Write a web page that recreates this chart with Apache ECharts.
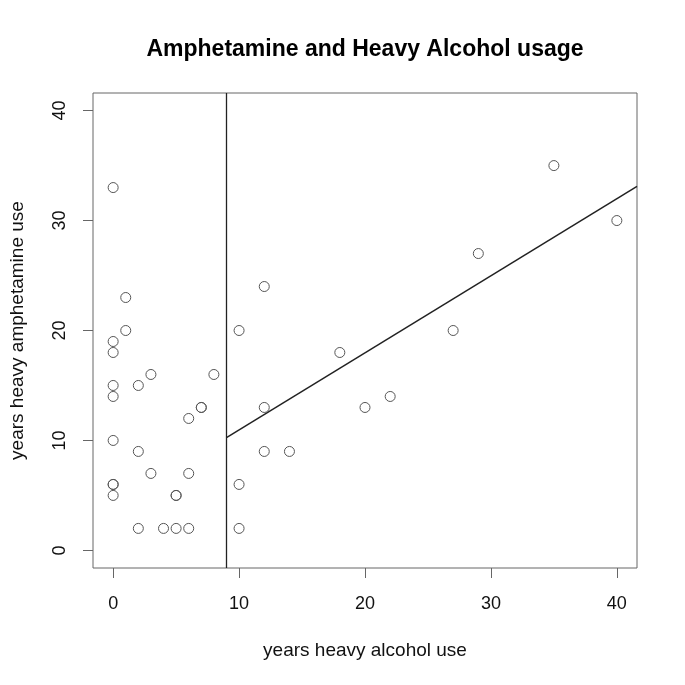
<!DOCTYPE html>
<html>
<head>
<meta charset="utf-8">
<script src="https://cdn.jsdelivr.net/npm/echarts@6/dist/echarts.min.js"></script>
<style>html,body{margin:0;padding:0;background:#fff;}#c{width:685px;height:685px;}</style>
</head>
<body>
<div id="c"></div>
<script>
// Data
const alcoholYears = [0,1,1,0,0,12,10,0,0,2,3,8,7,7,6,0,2,3,6,0,0,0,5,5,2,4,5,6,12,12,10,10,18,20,22,14,35,40,29,27];
const amphetamineYears = [33,23,20,19,18,24,20,15,14,15,16,16,13,13,12,10,9,7,7,6,6,5,5,5,2,2,2,2,13,9,6,2,18,13,14,9,35,30,27,20];
const xTicks = [0,10,20,30,40];
const yTicks = [0,10,20,30,40];
const cutoffX = 9;
const fitX = [9, 41.6];
const fitY = [10.25, 33.1];

const points = alcoholYears.map((x,i)=>[x, amphetamineYears[i]]);
const fitLine = fitX.map((x,i)=>[x, fitY[i]]);

const chart = echarts.init(document.getElementById('c'), null, {renderer:'canvas'});
const font = 'Liberation Sans, Arial, sans-serif';
chart.setOption({
  animation:false,
  title:{
    text:'Amphetamine and Heavy Alcohol usage',
    left:360, top:33, textAlign:'center',
    textStyle:{fontFamily:font, fontWeight:'bold', fontSize:23, color:'#000'}
  },
  grid:{left:93, right:48, top:93, bottom:117, show:true, borderColor:'#666', borderWidth:1, backgroundColor:'transparent', outerBoundsMode:'none', containLabel:false},
  xAxis:{
    type:'value', min:-1.6, max:41.6,
    name:'years heavy alcohol use', nameLocation:'middle', nameGap:73,
    nameTextStyle:{fontFamily:font, fontSize:19, color:'#111'},
    axisLine:{show:false, onZero:false},
    splitLine:{show:false},
    axisTick:{show:true, length:10, inside:false, customValues:xTicks, lineStyle:{color:'#666'}},
    axisLabel:{customValues:xTicks, margin:27, fontFamily:font, fontSize:18, color:'#111'}
  },
  yAxis:{
    type:'value', min:-1.6, max:41.6,
    name:'years heavy amphetamine use', nameLocation:'middle', nameGap:66, nameRotate:90,
    nameTextStyle:{fontFamily:font, fontSize:19, color:'#111'},
    axisLine:{show:false, onZero:false},
    splitLine:{show:false},
    axisTick:{show:true, length:10, customValues:yTicks, lineStyle:{color:'#666'}},
    axisLabel:{customValues:yTicks, rotate:90, margin:24, fontFamily:font, fontSize:18, color:'#111'}
  },
  series:[
    {
      type:'scatter', data:points, symbol:'circle', symbolSize:10,
      itemStyle:{color:'rgba(255,255,255,0)', borderColor:'#555', borderWidth:1, opacity:1},
      markLine:{
        silent:true, symbol:['none','none'], label:{show:false},
        lineStyle:{color:'#222', width:1.3, type:'solid'},
        data:[{xAxis:cutoffX}]
      },
      z:3
    },
    {
      type:'line', data:fitLine, showSymbol:false, symbol:'none',
      lineStyle:{color:'#222', width:1.5}, z:2
    }
  ]
});
</script>
</body>
</html>
